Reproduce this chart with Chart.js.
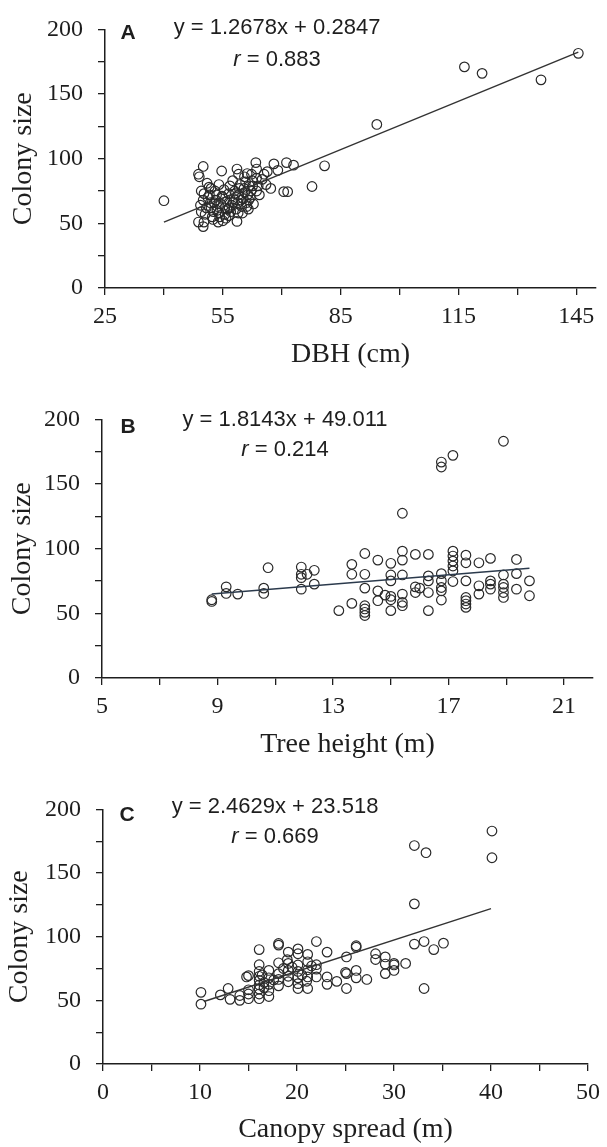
<!DOCTYPE html>
<html><head><meta charset="utf-8">
<script src="https://cdn.jsdelivr.net/npm/chart.js@4.4.0/dist/chart.umd.min.js"></script>
<style>
html,body{margin:0;padding:0;background:#fff;}
#wrap{position:relative;width:607px;height:1147px;overflow:hidden;}
.box{position:absolute;left:0;width:607px;}
</style></head><body>
<div id="wrap">
<div class="box" style="top:0;height:372px"><canvas id="cA"></canvas></div>
<div class="box" style="top:390px;height:372px"><canvas id="cB"></canvas></div>
<div class="box" style="top:780px;height:367px"><canvas id="cC"></canvas></div>
</div>
<script>
// ---------- Panel A: DBH (cm) vs colony size ----------
const dbhX = [40,145.5,116.5,121,136,94.2,80.9,77.7,70.5,71.5,67.2,73,71.2,68,63.4,66.3,69,63.6,63.6,63.6,61.2,58.6,54.7,50,48.8,49,58.6,50,48.8,50.2,
  49.5,50.2,50,49.3,49.5,50.5,51,51.5,51.2,51.8,52,52.3,52.5,53,53.4,53.2,53.5,54,54.2,54.5,55,55.3,55.5,55.8,56,56.5,56.8,57,57.2,57.8,58,58.4,58.8,59,59.4,59.8,60,60.2,60.4,60.8,61,61.3,61.5,61.8,62,62.2,62.5,62.8,53.8,55,56.5,52,54,57.5,60.5,59,62.3,64,64.3,65,65.5,66,
  50.8,51.6,52.8,53.6,54.8,56.2,57.6,58.2,59.6,60.6,61.6,62.6,56.6,58.9,55.6,52.6,61.1,59.2];
const dbhY = [67.5,181.5,171,166,161,126.5,94.5,78.5,74.5,74.5,77,95,97,96,97,90,91,92,85,75,88.5,92,90.5,94,88,86,51.5,47.5,51,51,
  75,73,68,64,59,57,81,78,70,66,62,55,53,75,72,68,60,58,55,65,70,76,62,54,67,73,79,59,64,69,75,61,66,72,80,63,58,69,77,82,66,72,61,79,70,75,83,65,51,52,56,77,80,83,86,88,88,79,72,84,88,80,
  62,72,66,63,71,61,66,73,68,74,68,79,62,58,57,59,63,77];
const trendAX = [40,145.5];
const trendAY = [51.0,182.5];

// ---------- Panel B: Tree height (m) vs colony size ----------
const heightX = [8.8,8.8,9.3,9.3,9.7,10.6,10.6,10.75,11.9,11.9,11.9,11.9,12.1,12.35,12.35,13.2,13.65,13.65,13.65,
  14.1,14.1,14.1,14.1,14.1,14.1,14.1,14.55,14.55,14.55,14.8,15,15,15,15,15,15,15.4,15.4,15.4,15.4,15.4,15.4,15.4,
  15.85,15.85,15.85,16.0,16.3,16.3,16.3,16.3,16.3,16.75,16.75,16.75,16.75,16.75,16.75,16.75,
  17.15,17.15,17.15,17.15,17.15,17.15,17.15,17.6,17.6,17.6,17.6,17.6,17.6,17.6,18.05,18.05,18.05,
  18.45,18.45,18.45,18.45,18.9,18.9,18.9,18.9,18.9,18.9,19.35,19.35,19.35,19.8,19.8];
const heightY = [60.5,59.2,70.5,65.4,64.9,69.5,65.4,85.3,85.8,80.2,77.6,68.7,80.2,83.3,72.6,52.1,87.9,80.2,57.7,
  96.3,80.2,69.5,55.9,53.4,50.8,48.3,91.2,67.4,59.8,64.1,88.7,79.7,75.1,63.1,60.5,52.1,98.1,91.2,79.7,64.9,58.5,55.9,127.4,
  95.6,70.5,66.1,69.5,95.6,79,75.1,66.1,52.1,167,163.2,80.7,75.1,70,67.4,60.3,
  172.2,98.1,94.3,90.4,86.6,82.8,74.6,95,89.1,75.1,62.3,59.8,57.2,54.6,89.1,71.3,64.9,
  92.5,75.1,72.6,68.7,183.1,79.7,72.6,70,66.1,62.3,91.7,80.7,68.7,75.1,63.6];
const trendBX = [8.8,19.8];
const trendBY = [65.0,84.9];

// ---------- Panel C: Canopy spread (m) vs colony size ----------
const canopyX = [10.1,10.1,12.1,12.9,13.1,14.1,14.1,15,15,15,15,14.8,16.1,16.1,16.1,16.1,16.1,16.1,16.1,16.1,16.1,
  17.1,17.1,17.1,17.1,17.1,18.1,18.1,18.1,18.1,18.1,18.1,19.1,19.1,19.1,19.1,19.1,20.1,20.1,20.1,20.1,20.1,20.1,20.1,
  21.1,21.1,21.1,21.1,21.1,22,22,22,23.1,23.1,23.1,24.1,25.1,25.1,25.1,26.1,26.1,26.1,26.1,27.2,28.1,28.1,
  29.1,29.1,29.1,30,30,30,31.2,32.1,32.1,33.1,33.1,34.1,35.1,32.1,33.3,40.1,40.1,
  16.6,16.6,17.6,19.5,20.5,21.5,18.6,22,25,19,16.4,21];
const canopyY = [56.3,47,54.3,59.3,50.8,50,53.8,51.3,55,58.3,69.4,68.4,51.3,55,58.8,62.1,65.7,68.9,72.7,78,89.9,
  53,57.6,62.6,67.7,73.5,61.4,66.4,71,79.5,93.4,94.7,64.6,68.9,73.5,79,87.9,59.3,63.1,67.7,72.7,77.8,86.6,90.4,
  59.3,68.4,74,80.3,86.1,68.4,74.5,96.2,62.6,68.4,87.9,64.9,59.3,71,84.1,67.7,73.5,91.7,92.9,66.4,82.1,86.6,
  71,78.5,84.1,73.5,77.8,79,79,94.2,125.8,96.2,59.3,89.9,94.9,171.6,166,183,162,
  60,64,66,76,70,77,75,78,72,82,70,65];
const trendCX = [10.4,40];
const trendCY = [49.1,122.0];

// ---------- Tick values & labels ----------
const yTicks = [0,25,50,75,100,125,150,175,200];
const yTickLabels = ['0','','50','','100','','150','','200'];
const xTicksA = [25,40,55,70,85,100,115,130,145];
const xTickLabelsA = ['25','','55','','85','','115','','145'];
const xTicksB = [5,7,9,11,13,15,17,19,21];
const xTickLabelsB = ['5','','9','','13','','17','','21'];
const xTicksC = [0,5,10,15,20,25,30,35,40,45,50];
const xTickLabelsC = ['0','','10','','20','','30','','40','','50'];

const INK = '#1e1e1e';
const serif = '"Liberation Serif","Times New Roman",serif';
const sans = '"Liberation Sans",Arial,sans-serif';

function zip(xs, ys){ return xs.map((x,i)=>({x:x, y:ys[i]})); }

const annot = {
  id:'annot',
  afterDraw(chart, args, o){
    const ctx = chart.ctx;
    ctx.save();
    ctx.fillStyle = INK;
    ctx.textBaseline = 'middle';
    ctx.textAlign = 'center';
    ctx.font = 'bold 21px ' + sans;
    ctx.fillText(o.letter, o.lx, o.ly);
    ctx.font = '22px ' + sans;
    ctx.fillText(o.eq, o.ex, o.ey);
    // r = value with italic r
    const rest = ' = ' + o.r;
    ctx.font = 'italic 22px ' + sans;
    const w1 = ctx.measureText('r').width;
    ctx.font = '22px ' + sans;
    const w2 = ctx.measureText(rest).width;
    const start = o.ex - (w1 + w2) / 2;
    ctx.textAlign = 'left';
    ctx.font = 'italic 22px ' + sans;
    ctx.fillText('r', start, o.ry);
    ctx.font = '22px ' + sans;
    ctx.fillText(rest, start + w1, o.ry);
    ctx.restore();
  }
};

function makeChart(id, cfg){
  const ctx = document.getElementById(id);
  return new Chart(ctx, {
    type:'scatter',
    data:{datasets:[
      {data: zip(cfg.xs, cfg.ys), pointStyle:'circle', pointRadius:4.8, pointHoverRadius:4.8,
       borderWidth:1.2, borderColor:'#2a2a2a', backgroundColor:'rgba(0,0,0,0)', order:2},
      {data: zip(cfg.tx, cfg.ty), showLine:true, pointRadius:0, borderWidth:1.4,
       borderColor: cfg.lineColor, backgroundColor:'rgba(0,0,0,0)', order:1}
    ]},
    options:{
      responsive:true, maintainAspectRatio:false, animation:false, devicePixelRatio:1,
      layout:{padding:cfg.pad},
      plugins:{legend:{display:false}, tooltip:{enabled:false}, annot:cfg.annot},
      events:[],
      scales:{
        x:{type:'linear', min:cfg.xmin, max:cfg.xmax, offset:false,
           afterBuildTicks: ax => { ax.ticks = cfg.xt.map(v=>({value:v})); },
           afterFit: ax => { ax.height = cfg.xh; },
           ticks:{autoSkip:false, maxRotation:0, color:INK, padding:7,
                  font:{family:serif, size:24}, callback:(v,i)=>cfg.xl[i]},
           grid:{drawOnChartArea:false, drawTicks:true, tickLength:7, color:INK, lineWidth:1.3},
           border:{display:true, color:INK, width:1.5},
           title:{display:true, text:cfg.xtitle, color:INK, font:{family:serif, size:28}, padding:{top:0,bottom:0}}
        },
        y:{type:'linear', min:0, max:200,
           afterBuildTicks: ax => { ax.ticks = yTicks.map(v=>({value:v})); },
           afterFit: ax => { ax.width = cfg.yw; },
           ticks:{autoSkip:false, color:INK, padding:15,
                  font:{family:serif, size:24}, callback:(v,i)=>yTickLabels[i]},
           grid:{drawOnChartArea:false, drawTicks:true, tickLength:7, color:INK, lineWidth:1.3},
           border:{display:true, color:INK, width:1.5},
           title:{display:true, text:'Colony size', color:INK, font:{family:serif, size:28}, padding:{top:cfg.ytp,bottom:0}}
        }
      }
    },
    plugins:[annot]
  });
}

makeChart('cA', {xs:dbhX, ys:dbhY, tx:trendAX, ty:trendAY, lineColor:'#333',
  xmin:25, xmax:150, xt:xTicksA, xl:xTickLabelsA, xtitle:'DBH (cm)',
  pad:{left:0,right:11,top:19,bottom:1}, xh:83, yw:105, ytp:7,
  annot:{letter:'A', lx:128, ly:33, eq:'y = 1.2678x + 0.2847', ex:277, ey:28, r:'0.883', ry:60}});

makeChart('cB', {xs:heightX, ys:heightY, tx:trendBX, ty:trendBY, lineColor:'#2b3a4c',
  xmin:5, xmax:22, xt:xTicksB, xl:xTickLabelsB, xtitle:'Tree height (m)',
  pad:{left:0,right:14,top:27,bottom:1}, xh:83, yw:102, ytp:6,
  annot:{letter:'B', lx:128, ly:37, eq:'y = 1.8143x + 49.011', ex:285, ey:30, r:'0.214', ry:60}});

makeChart('cC', {xs:canopyX, ys:canopyY, tx:trendCX, ty:trendCY, lineColor:'#333',
  xmin:0, xmax:50, xt:xTicksC, xl:xTickLabelsC, xtitle:'Canopy spread (m)',
  pad:{left:0,right:14,top:23,bottom:1}, xh:82, yw:103, ytp:3,
  annot:{letter:'C', lx:127, ly:35, eq:'y = 2.4629x + 23.518', ex:275, ey:27, r:'0.669', ry:57}});
</script>
</body></html>
